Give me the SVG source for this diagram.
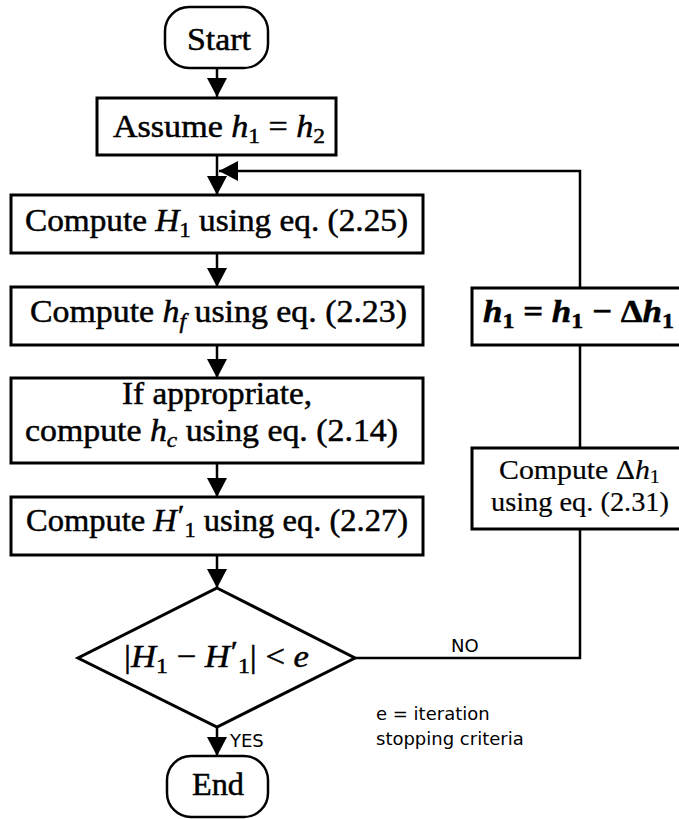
<svg xmlns="http://www.w3.org/2000/svg" width="679" height="819" viewBox="0 0 679 819">
<style>
.box{fill:#fff;stroke:#000;stroke-width:3}
.term{fill:#fff;stroke:#000;stroke-width:2.5}
.t{font-family:"Liberation Serif",serif;font-size:32px;fill:#000;stroke:#000;stroke-width:0.5}
.ts{font-family:"Liberation Serif",serif;font-size:28px;fill:#000;stroke:#000;stroke-width:0.2}
.i{font-style:italic}
.sub{font-size:22px}
.pr{font-size:30px}
.lbl{font-family:"DejaVu Sans",sans-serif;font-size:18px;fill:#000}
.conn{fill:none;stroke:#000;stroke-width:2.5}
</style>
<defs>
<marker id="ah" markerUnits="userSpaceOnUse" markerWidth="20" markerHeight="20" refX="19" refY="10" orient="auto">
<path d="M0,0 L19,10 L0,20 z" fill="#000"/>
</marker>
</defs>
<rect width="679" height="819" fill="#fff"/>
<g id="connectors">
<line class="conn" x1="217" y1="68" x2="217" y2="97" marker-end="url(#ah)"/>
<line class="conn" x1="217" y1="155" x2="217" y2="195" marker-end="url(#ah)"/>
<line class="conn" x1="217" y1="253" x2="217" y2="287" marker-end="url(#ah)"/>
<line class="conn" x1="217" y1="345" x2="217" y2="378" marker-end="url(#ah)"/>
<line class="conn" x1="217" y1="463" x2="217" y2="497" marker-end="url(#ah)"/>
<line class="conn" x1="217" y1="555" x2="217" y2="588" marker-end="url(#ah)"/>
<line class="conn" x1="217" y1="727" x2="217" y2="756" marker-end="url(#ah)"/>
<path class="conn" d="M355,658 H580 V171 H219" marker-end="url(#ah)"/>
<text class="lbl" x="451" y="652">NO</text>
<text class="lbl" x="230" y="747">YES</text>
</g>
<g id="start">
<rect class="term" x="165" y="7" width="103" height="61" rx="24"/>
<text class="t" x="187" y="50" font-size="33" textLength="64" lengthAdjust="spacingAndGlyphs">Start</text>
</g>
<g id="assume">
<rect class="box" x="97" y="98" width="239" height="57"/>
<text class="t" x="113" y="137" textLength="212" lengthAdjust="spacingAndGlyphs">Assume <tspan class="i">h</tspan><tspan class="sub" dy="6">1</tspan><tspan dy="-6"> = </tspan><tspan class="i">h</tspan><tspan class="sub" dy="6">2</tspan></text>
</g>
<g id="computeH1">
<rect class="box" x="11" y="195" width="412" height="58"/>
<text class="t" x="25" y="231" textLength="383" lengthAdjust="spacingAndGlyphs">Compute <tspan class="i">H</tspan><tspan class="sub" dy="6">1</tspan><tspan dy="-6"> using eq. (2.25)</tspan></text>
</g>
<g id="computehf">
<rect class="box" x="11" y="287" width="412" height="58"/>
<text class="t" x="30" y="322" textLength="377" lengthAdjust="spacingAndGlyphs">Compute <tspan class="i">h</tspan><tspan class="sub i" dy="6">f</tspan><tspan dy="-6"> using eq. (2.23)</tspan></text>
</g>
<g id="computehc">
<rect class="box" x="11" y="378" width="412" height="85"/>
<text class="t" x="122" y="404" textLength="190" lengthAdjust="spacingAndGlyphs">If appropriate,</text>
<text class="t" x="25" y="441" textLength="373" lengthAdjust="spacingAndGlyphs">compute <tspan class="i">h</tspan><tspan class="sub i" dy="6">c</tspan><tspan dy="-6"> using eq. (2.14)</tspan></text>
</g>
<g id="computeH1p">
<rect class="box" x="11" y="497" width="412" height="58"/>
<text class="t" x="26" y="531" textLength="382" lengthAdjust="spacingAndGlyphs">Compute <tspan class="i">H</tspan><tspan class="pr" dx="1" dy="-6">′</tspan><tspan class="sub" dy="12">1</tspan><tspan dy="-6"> using eq. (2.27)</tspan></text>
</g>
<g id="decision">
<polygon class="box" points="217,588 355,658 217,727 78,658"/>
<text class="t" x="124" y="667" textLength="185" lengthAdjust="spacingAndGlyphs">|<tspan class="i">H</tspan><tspan class="sub" dy="6">1</tspan><tspan dy="-6"> − </tspan><tspan class="i">H</tspan><tspan class="pr" dx="1" dy="-6">′</tspan><tspan class="sub" dy="12">1</tspan><tspan dy="-6">| &lt; </tspan><tspan class="i">e</tspan></text>
</g>
<g id="end">
<rect class="term" x="167" y="756" width="101" height="61" rx="24"/>
<text class="t" x="192" y="795" font-size="33" textLength="52" lengthAdjust="spacingAndGlyphs">End</text>
</g>
<g id="update">
<rect class="box" x="472" y="288" width="215" height="57"/>
<text class="t" x="483" y="322" font-weight="bold" textLength="191" lengthAdjust="spacingAndGlyphs"><tspan class="i">h</tspan><tspan class="sub" dy="6">1</tspan><tspan dy="-6"> = </tspan><tspan class="i">h</tspan><tspan class="sub" dy="6">1</tspan><tspan dy="-6"> − Δ</tspan><tspan class="i">h</tspan><tspan class="sub" dy="6">1</tspan></text>
</g>
<g id="computeDh">
<rect class="box" x="472" y="448" width="215" height="81"/>
<text class="ts" x="499" y="479" textLength="161" lengthAdjust="spacingAndGlyphs">Compute Δ<tspan class="i">h</tspan><tspan font-size="19" dy="4">1</tspan></text>
<text class="ts" x="491" y="511" textLength="178" lengthAdjust="spacingAndGlyphs">using eq. (2.31)</text>
</g>
<g id="note">
<text class="lbl" x="376" y="720">e = iteration</text>
<text class="lbl" x="376" y="745">stopping criteria</text>
</g>
</svg>
